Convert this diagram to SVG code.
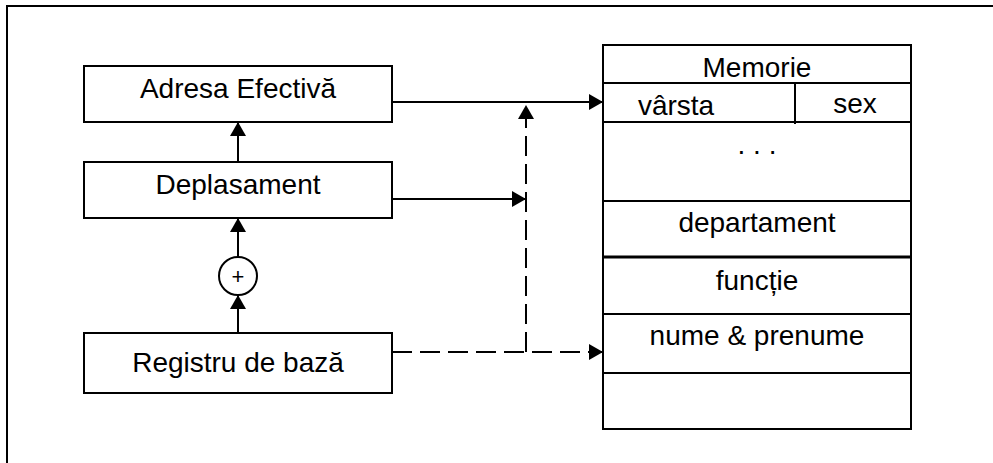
<svg xmlns="http://www.w3.org/2000/svg" width="993" height="463" viewBox="0 0 993 463">
<style>
.box{fill:#fff;stroke:#000;stroke-width:2}
.ln{fill:none;stroke:#000;stroke-width:2}
.dash{fill:none;stroke:#000;stroke-width:2;stroke-dasharray:20 8}
.t{font-family:"Liberation Sans",Arial,sans-serif;font-size:28px;fill:#000;text-anchor:middle}
</style>
<defs>
<marker id="ah" markerUnits="userSpaceOnUse" markerWidth="16" markerHeight="16" refX="14" refY="8" orient="auto">
<path d="M0,0 L14,8 L0,16 z" fill="#000"/>
</marker>
</defs>
<rect x="0" y="0" width="993" height="463" fill="#fff"/>
<path class="ln" d="M7,463 V6 H993"/>
<g id="adresa">
<rect class="box" x="84" y="66" width="308" height="56"/>
<text class="t" x="238" y="98">Adresa Efectivă</text>
</g>
<g id="deplasament">
<rect class="box" x="84" y="162" width="308" height="56"/>
<text class="t" x="238" y="194">Deplasament</text>
</g>
<g id="plus">
<circle class="box" cx="238" cy="276" r="19"/>
<text class="t" x="238" y="284" style="font-size:22px">+</text>
</g>
<g id="registru">
<rect class="box" x="84" y="333" width="308" height="60"/>
<text class="t" x="238" y="372">Registru de bază</text>
</g>
<g id="memorie">
<rect class="box" x="603" y="45" width="308" height="384"/>
<path class="ln" d="M603,83 H911 M603,122 H911 M603,201 H911 M603,314 H911 M603,373 H911 M795,83 V124"/>
<path fill="none" stroke="#000" stroke-width="3" d="M603,257 H911"/>
<text class="t" x="757" y="77">Memorie</text>
<text class="t" x="676" y="115">vârsta</text>
<text class="t" x="855" y="113">sex</text>
<text class="t" x="757" y="154">. . .</text>
<text class="t" x="757" y="232">departament</text>
<text class="t" x="757" y="290">funcție</text>
<text class="t" x="757" y="345">nume &amp; prenume</text>
</g>
<g id="connectors">
<path class="ln" d="M238,162 V122" marker-end="url(#ah)"/>
<path class="ln" d="M238,257 V218" marker-end="url(#ah)"/>
<path class="ln" d="M238,333 V295" marker-end="url(#ah)"/>
<path class="ln" d="M392,102 H603" marker-end="url(#ah)"/>
<path class="ln" d="M392,199 H526" marker-end="url(#ah)"/>
<path class="dash" d="M392,352 H603" marker-end="url(#ah)"/>
<path class="dash" d="M526,352 V105" marker-end="url(#ah)"/>
</g>
</svg>
